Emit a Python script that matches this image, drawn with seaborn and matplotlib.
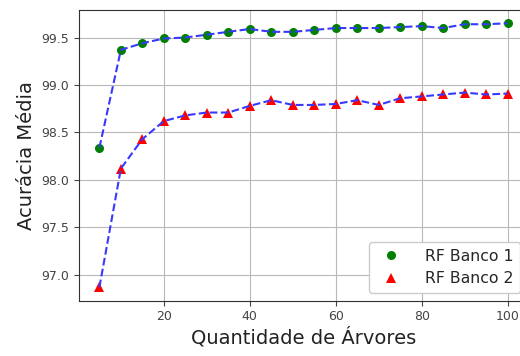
import matplotlib
matplotlib.use("Agg")
import matplotlib.pyplot as plt
import seaborn as sns
import pandas as pd

arvores = [5, 10, 15, 20, 25, 30, 35, 40, 45, 50, 55, 60, 65, 70, 75, 80, 85, 90, 95, 100]
banco1 = [98.34, 99.37, 99.44, 99.49, 99.50, 99.53, 99.56, 99.59, 99.56, 99.56,
          99.58, 99.60, 99.60, 99.60, 99.61, 99.62, 99.60, 99.64, 99.64, 99.65]
banco2 = [96.87, 98.12, 98.43, 98.62, 98.68, 98.71, 98.71, 98.78, 98.84, 98.79,
          98.79, 98.80, 98.84, 98.79, 98.86, 98.88, 98.90, 98.92, 98.90, 98.91]
rotulos = ["RF Banco 1", "RF Banco 2"]

df = pd.DataFrame({"arvores": arvores, "b1": banco1, "b2": banco2})

sns.set_style("ticks", {"axes.grid": True, "grid.color": "#b8b8b8",
                        "axes.edgecolor": "#303030"})
plt.rcParams["font.family"] = ["DejaVu Sans"]

fig = plt.figure(figsize=(5.2, 3.56), dpi=100)
ax = fig.add_axes([79/520, 1 - 300.5/356, 449/520, 290.5/356])

sns.lineplot(data=df, x="arvores", y="b1", ax=ax, color="green", marker="o",
             linestyle="", markersize=6.5, markeredgewidth=0, label=rotulos[0])
sns.lineplot(data=df, x="arvores", y="b2", ax=ax, color="red", marker="^",
             linestyle="", markersize=6.5, markeredgewidth=0, label=rotulos[1])
sns.lineplot(data=df, x="arvores", y="b1", ax=ax, color="#3838ff", linestyle="--",
             linewidth=1.5, label="_nolegend_")
sns.lineplot(data=df, x="arvores", y="b2", ax=ax, color="#3838ff", linestyle="--",
             linewidth=1.5, label="_nolegend_")

ax.set_xlim(0.25, 104.75)
ax.set_ylim(96.73, 99.79)
ax.set_xticks([20, 40, 60, 80, 100])
ax.set_yticks([97.0, 97.5, 98.0, 98.5, 99.0, 99.5])
ax.tick_params(labelsize=9, colors="#444444", length=3.5)
ax.set_xlabel("Quantidade de Árvores", fontsize=14, color="#222222", labelpad=3)
ax.set_ylabel("Acurácia Média", fontsize=14, color="#222222", labelpad=4)
ax.spines["left"].set_visible(True)
ax.spines["bottom"].set_visible(True)
ax.spines["top"].set_visible(True)
ax.spines["right"].set_visible(False)
ax.legend(loc="lower right", fontsize=11.3, handletextpad=1.2, framealpha=1)

fig.savefig("out.png", dpi=100)
